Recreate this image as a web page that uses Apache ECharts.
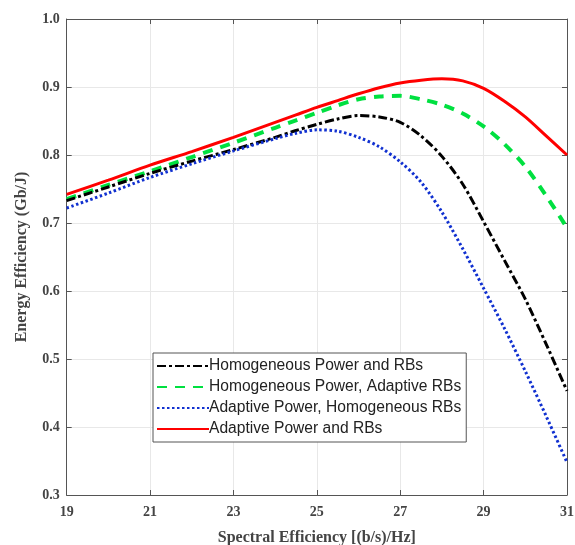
<!DOCTYPE html>
<html>
<head>
<meta charset="utf-8">
<script src="https://cdn.jsdelivr.net/npm/echarts@6/dist/echarts.min.js"></script>
<style>html,body{margin:0;padding:0;background:#fff}#c{width:575px;height:545px}</style>
</head>
<body>
<div id="c"></div>
<script>
const xValues = [19,20,21,22,23,24,24.5,25,25.5,26,26.5,27,27.5,28,28.5,29,29.5,30,30.5,31];
const homogeneousPowerRBs = [0.733,0.753,0.773,0.791,0.808,0.826,0.836,0.845,0.853,0.858,0.856,0.848,0.828,0.798,0.757,0.702,0.645,0.588,0.522,0.453];
const homogeneousPowerAdaptiveRBs = [0.735,0.756,0.776,0.797,0.818,0.840,0.851,0.862,0.873,0.882,0.886,0.887,0.882,0.874,0.861,0.842,0.816,0.783,0.740,0.693];
const adaptivePowerHomogeneousRBs = [0.722,0.744,0.767,0.787,0.806,0.824,0.832,0.837,0.835,0.826,0.812,0.790,0.760,0.716,0.662,0.604,0.545,0.482,0.416,0.348];
const adaptivePowerRBs = [0.742,0.763,0.785,0.805,0.826,0.848,0.859,0.870,0.880,0.890,0.899,0.906,0.910,0.912,0.909,0.898,0.879,0.856,0.828,0.800];
const xTicks = [19,21,23,25,27,29,31];
const yTicks = [0.3,0.4,0.5,0.6,0.7,0.8,0.9,1.0];
const names = ['Homogeneous Power and RBs','Homogeneous Power, Adaptive RBs','Adaptive Power, Homogeneous RBs','Adaptive Power and RBs'];

const pair = arr => xValues.map((x,i)=>[x,arr[i]]);
const chart = echarts.init(document.getElementById('c'));
const axisCol = '#555';
const tickFont = {fontFamily:'Liberation Serif',fontWeight:'bold',fontSize:14,color:'#444'};
chart.setOption({
  animation:false,
  backgroundColor:'#fff',
  grid:{left:66.7,right:8,top:19,bottom:50,containLabel:false,outerBoundsMode:'none'},
  legend:{
    orient:'vertical',left:153,top:353,
    backgroundColor:'#fff',borderColor:'#555',borderWidth:1,
    padding:[5,5,5,3],itemGap:5,itemWidth:52,itemHeight:14,
    itemStyle:{opacity:0,borderWidth:0,color:'transparent'},
    textStyle:{fontFamily:'Liberation Sans',fontSize:15.6,color:'#222',padding:[0,0,0,-5]},
    data:names
  },
  xAxis:[{
    type:'value',min:19,max:31,interval:2,
    name:'Spectral Efficiency [(b/s)/Hz]',nameLocation:'middle',nameGap:35,
    nameTextStyle:{fontFamily:'Liberation Serif',fontWeight:'bold',fontSize:16,color:'#444'},
    axisLine:{show:true,lineStyle:{color:axisCol,width:1}},
    axisTick:{show:true,inside:true,length:5,lineStyle:{color:axisCol}},
    axisLabel:Object.assign({margin:10,formatter:v=>xTicks.includes(v)?String(v):''},tickFont),
    splitLine:{show:true,lineStyle:{color:'#e8e8e8',width:1}}
  },{
    type:'value',min:19,max:31,interval:2,position:'top',
    axisLine:{show:true,lineStyle:{color:axisCol,width:1}},
    axisTick:{show:true,inside:true,length:5,lineStyle:{color:axisCol}},
    axisLabel:{show:false},splitLine:{show:false}
  }],
  yAxis:[{
    type:'value',min:0.3,max:1.0,interval:0.1,
    name:'Energy Efficiency (Gb/J)',nameLocation:'middle',nameGap:37,
    nameTextStyle:{fontFamily:'Liberation Serif',fontWeight:'bold',fontSize:16,color:'#444'},
    axisLine:{show:true,lineStyle:{color:axisCol,width:1}},
    axisTick:{show:true,inside:true,length:5,lineStyle:{color:axisCol}},
    axisLabel:Object.assign({margin:7,formatter:v=>v.toFixed(1)},tickFont),
    splitLine:{show:true,lineStyle:{color:'#e8e8e8',width:1}}
  },{
    type:'value',min:0.3,max:1.0,interval:0.1,position:'right',
    axisLine:{show:true,lineStyle:{color:axisCol,width:1}},
    axisTick:{show:true,inside:true,length:5,lineStyle:{color:axisCol}},
    axisLabel:{show:false},splitLine:{show:false}
  }],
  series:[
    {name:names[0],type:'line',data:pair(homogeneousPowerRBs),smooth:0.3,symbol:'circle',showSymbol:false,z:3,
      lineStyle:{color:'#000',width:3,type:[9,3,3,3]},itemStyle:{color:'#000'}},
    {name:names[1],type:'line',data:pair(homogeneousPowerAdaptiveRBs),smooth:0.3,symbol:'circle',showSymbol:false,z:2,
      lineStyle:{color:'#00e040',width:4,type:[10,8]},itemStyle:{color:'#00e040'}},
    {name:names[2],type:'line',data:pair(adaptivePowerHomogeneousRBs),smooth:0.3,symbol:'circle',showSymbol:false,z:4,
      lineStyle:{color:'#1030d0',width:3,type:[2.5,2.5]},itemStyle:{color:'#1030d0'}},
    {name:names[3],type:'line',data:pair(adaptivePowerRBs),smooth:0.3,symbol:'circle',showSymbol:false,z:1,
      lineStyle:{color:'#ff0000',width:3,type:'solid'},itemStyle:{color:'#ff0000'}}
  ]
});
</script>
</body>
</html>
